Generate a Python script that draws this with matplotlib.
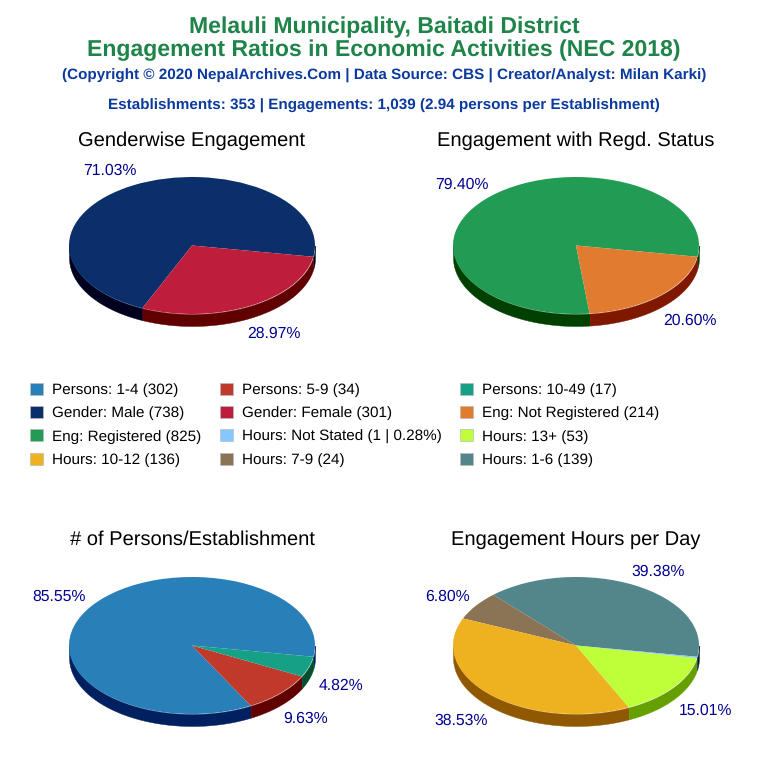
import numpy as np
import matplotlib
matplotlib.use('Agg')
import matplotlib.pyplot as plt
from matplotlib.patches import Patch

plt.rcParams['font.family'] = ['Liberation Sans', 'DejaVu Sans']
plt.rcParams['text.hinting'] = 'none'

# chart data
gender_labels = ['Gender: Male', 'Gender: Female']
gender_values = [738, 301]
regd_labels = ['Eng: Registered', 'Eng: Not Registered']
regd_values = [825, 214]
persons_labels = ['Persons: 1-4', 'Persons: 5-9', 'Persons: 10-49']
persons_values = [302, 34, 17]
hours_labels = ['Hours: 1-6', 'Hours: 7-9', 'Hours: 10-12', 'Hours: 13+', 'Hours: Not Stated']
hours_values = [139, 24, 136, 53, 1]

gender_colors = ['#0a2f6b', '#be1e3c']
gender_sides = ['#00001f', '#600000']
regd_colors = ['#229c55', '#e07b2f']
regd_sides = ['#004000', '#801800']
persons_colors = ['#2980b9', '#c0392b', '#16a085']
persons_sides = ['#002060', '#600000', '#005030']
hours_colors = ['#52868a', '#8b7355', '#eeb120', '#beff3a', '#85c8ff']
hours_sides = ['#002030', '#403020', '#905800', '#66a000', '#204060']

W, H = 768, 768
RX, RY, DEPTH = 123, 68.5, 12
START = -9.5

fig = plt.figure(figsize=(W / 100, H / 100), dpi=100)


def draw_pie(cx, cy, values, colors, sides, title, title_y):
    box = [(cx - RX) / W, 1 - (cy + RY) / H, 2 * RX / W, 2 * RY / H]
    ax = fig.add_axes(box)
    wedges, _ = ax.pie(values, colors=colors, startangle=START, radius=1,
                       wedgeprops={'linewidth': 0})
    ax.set_aspect('auto')
    ax.set_xlim(-1, 1)
    ax.set_ylim(-1, 1)
    ax.axis('off')
    d = DEPTH / RY
    total = sum(values)
    for w, side, val in zip(wedges, sides, values):
        # side wall only where the rim faces the viewer
        for lo, hi in [(-180, 0), (180, 360), (540, 720)]:
            a, b = max(w.theta1, lo), min(w.theta2, hi)
            if b <= a:
                continue
            t = np.radians(np.linspace(a, b, 80))
            ax.fill_between(np.cos(t), np.sin(t) - d, np.sin(t), color=side,
                            lw=0.3, zorder=0, clip_on=False)
        w.set_zorder(2)
        w.set_clip_on(False)
        pct = val / total * 100
        if pct < 1:
            continue
        # labels hang off the rim: right-aligned on the left, left-aligned on the right
        mid = np.radians((w.theta1 + w.theta2) / 2)
        c, s = np.cos(mid), np.sin(mid)
        lx = np.sign(c) * (150 * abs(c) - 16) / RX
        ly = (85 * s - 0.5) / RY
        if s < 0:
            ly -= 13 / RY
        ax.text(lx, ly, f'{pct:.2f}%', ha='left' if c > 0 else 'right', va='center',
                fontsize=11.3, color='#000090', clip_on=False)
    fig.text(cx / W, 1 - title_y / H, title, ha='center', va='center',
             fontsize=14.5, color='black')
    return wedges


draw_pie(192, 245.5, gender_values, gender_colors, gender_sides, 'Genderwise Engagement', 141)
draw_pie(576, 245.5, regd_values, regd_colors, regd_sides, 'Engagement with Regd. Status', 141)
draw_pie(192, 645.5, persons_values, persons_colors, persons_sides, '# of Persons/Establishment', 540)
draw_pie(576, 645.5, hours_values, hours_colors, hours_sides, 'Engagement Hours per Day', 540)

green = '#1e8449'
blue = '#0b3a9e'
fig.text(0.5, 1 - 27.7 / H, 'Melauli Municipality, Baitadi District', ha='center', va='center',
         fontsize=16.6, fontweight='bold', color=green)
fig.text(0.5, 1 - 50.7 / H, 'Engagement Ratios in Economic Activities (NEC 2018)', ha='center', va='center',
         fontsize=16.6, fontweight='bold', color=green)
fig.text(0.5, 1 - 76 / H, '(Copyright © 2020 NepalArchives.Com | Data Source: CBS | Creator/Analyst: Milan Karki)',
         ha='center', va='center', fontsize=10.95, fontweight='bold', color=blue)
fig.text(0.5, 1 - 106 / H, 'Establishments: 353 | Engagements: 1,039 (2.94 persons per Establishment)',
         ha='center', va='center', fontsize=10.95, fontweight='bold', color=blue)

# legend rows run across, matplotlib fills by column
rows = [
    [('Persons: 1-4 (302)', persons_colors[0]), ('Persons: 5-9 (34)', persons_colors[1]),
     ('Persons: 10-49 (17)', persons_colors[2])],
    [('Gender: Male (738)', gender_colors[0]), ('Gender: Female (301)', gender_colors[1]),
     ('Eng: Not Registered (214)', regd_colors[1])],
    [('Eng: Registered (825)', regd_colors[0]), ('Hours: Not Stated (1 | 0.28%)', hours_colors[4]),
     ('Hours: 13+ (53)', hours_colors[3])],
    [('Hours: 10-12 (136)', hours_colors[2]), ('Hours: 7-9 (24)', hours_colors[1]),
     ('Hours: 1-6 (139)', hours_colors[0])],
]
handles = []
for col in range(3):
    for row in rows:
        name, color = row[col]
        handles.append(Patch(facecolor=color, edgecolor='#bbbbbb', linewidth=0.5, label=name))

fig.legend(handles=handles, ncols=3, loc='upper left', bbox_to_anchor=(25 / W, 1 - 378 / H),
           frameon=False, fontsize=11, handlelength=0.85, handleheight=0.85, handletextpad=0.6,
           columnspacing=1.22, labelspacing=0.58, borderpad=0.3, borderaxespad=0)

plt.savefig('out.png', dpi=100, facecolor='white')
